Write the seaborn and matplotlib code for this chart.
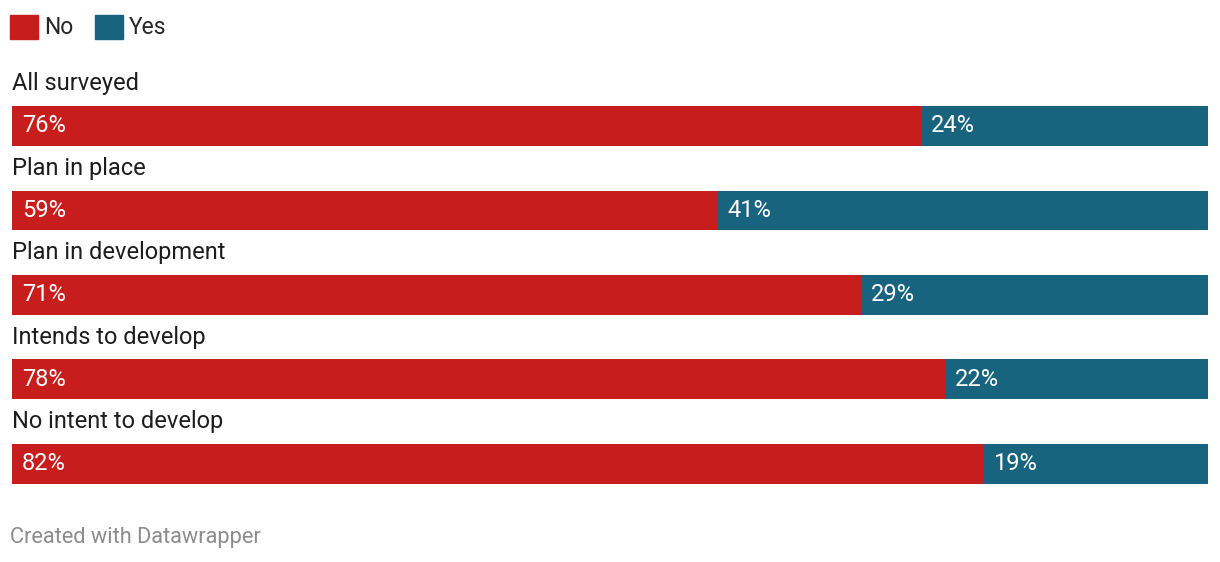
import numpy as np
import pandas as pd
import seaborn as sns
import matplotlib.pyplot as plt
from matplotlib.patches import Patch

# data
groups = ["All surveyed", "Plan in place", "Plan in development", "Intends to develop", "No intent to develop"]
no_vals = [76, 59, 71, 78, 82]
yes_vals = [24, 41, 29, 22, 19]

red = "#c71e1d"
blue = "#18647e"

df = pd.DataFrame({"group": groups, "no": no_vals, "yes": yes_vals})
df["total"] = df["no"] + df["yes"]
df["no_share"] = df["no"] / df["total"]
df["full"] = 1.0

sns.set_theme(style="white")
plt.rcParams["font.family"] = ["Roboto", "DejaVu Sans"]

fig = plt.figure(figsize=(12.2, 5.62), dpi=100)
ax = fig.add_axes([12 / 1220, 0, 1196 / 1220, 1])

#yes bar as the full width, no bar on top
sns.barplot(data=df, x="full", y="group", color=blue, width=0.473, ax=ax, saturation=1, linewidth=0)
sns.barplot(data=df, x="no_share", y="group", color=red, width=0.473, ax=ax, saturation=1, linewidth=0)

ax.set_xlim(0, 1)
ax.set_ylim(5.16, -1.491)
ax.axis("off")

for i, row in df.iterrows():
    ax.text(0, i - 0.5, row["group"], ha="left", va="center", fontsize=17, color="#1d1d1d")
    ax.text(10 / 1196, i, f"{row['no']}%", ha="left", va="center", fontsize=17, color="white")
    ax.text(row["no_share"] + 10 / 1196, i, f"{row['yes']}%", ha="left", va="center", fontsize=17, color="white")

handles = [Patch(color=red, label="No"), Patch(color=blue, label="Yes")]
fig.legend(handles=handles, loc="upper left", bbox_to_anchor=(0.001, 0.99), ncol=2, frameon=False,
           fontsize=16.5, handlelength=1.22, handleheight=1.22, handletextpad=0.25, columnspacing=0.95,
           borderaxespad=0)

fig.text(10 / 1220, 1 - 537 / 562, "Created with Datawrapper", ha="left", va="center", fontsize=15.7, color="#8c8c8c")

fig.savefig("out.png", dpi=100)
